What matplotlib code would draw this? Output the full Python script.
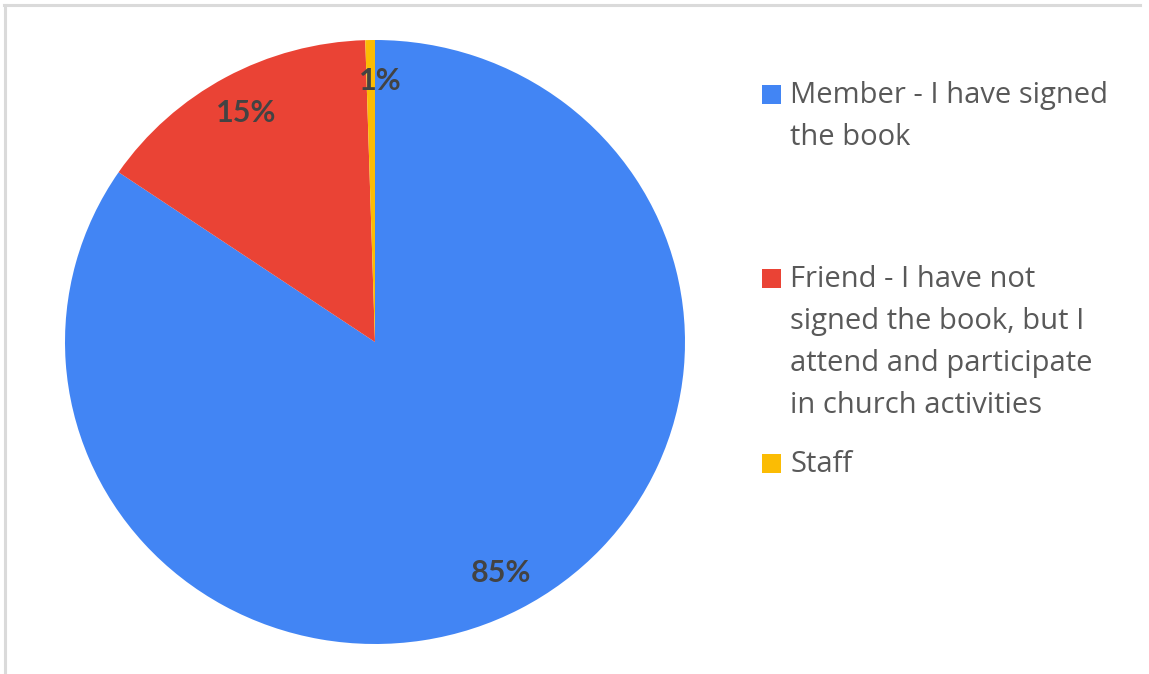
"""
Kreisdiagramm: Zugehörigkeit der Befragten (Member / Friend / Staff).
"""

import math

import matplotlib.pyplot as plt
from matplotlib.lines import Line2D
from matplotlib.patches import Rectangle


# Anteile in Prozent, im Uhrzeigersinn ab 12 Uhr
CATEGORIES = [
    "Member - I have signed the book",
    "Friend - I have not signed the book, but I attend and participate in church activities",
    "Staff",
]
SHARES = [84.5, 15.0, 0.5]

# Legendentext, so umbrochen wie er gesetzt wird
LEGEND_LINES = [
    ["Member - I have signed", "the book"],
    ["Friend - I have not", "signed the book, but I",
     "attend and participate", "in church activities"],
    ["Staff"],
]

COLORS = ["#4285F4", "#EA4335", "#FBBC04"]

FIG_W, FIG_H = 1149, 674
DPI = 100

LABEL_FONT = "Lato"
LEGEND_FONT = "Open Sans"
LABEL_COLOR = "#434343"
LEGEND_COLOR = "#595959"
BORDER_COLOR = "#DADADA"

LABEL_SIZE = 22
LEGEND_SIZE = 21


def pct_label(value: float) -> str:
    """
    Rundet kaufmännisch auf ganze Prozent.
    """
    return f"{math.floor(value + 0.5)}%"


def px_x(x: float) -> float:
    return x / FIG_W


def px_y(y: float) -> float:
    # Pixelangabe von oben -> Figure-Koordinate von unten
    return 1 - y / FIG_H


def main() -> None:
    fig = plt.figure(figsize=(FIG_W / DPI, FIG_H / DPI), dpi=DPI)
    fig.patch.set_facecolor("white")

    # Achse für den Kreis (leicht in die Breite gezogen)
    ax = fig.add_axes([px_x(65), px_y(644), 620 / FIG_W, 604 / FIG_H])

    wedges, texts, autotexts = ax.pie(
        SHARES,
        colors=COLORS,
        startangle=90,
        counterclock=False,
        autopct=lambda v: pct_label(v),
        pctdistance=0.865,
        wedgeprops={"linewidth": 0},
        textprops={"fontsize": LABEL_SIZE, "fontweight": "bold",
                   "color": LABEL_COLOR, "family": LABEL_FONT},
    )
    ax.set_aspect("auto")
    ax.set_xlim(-1, 1)
    ax.set_ylim(-1, 1)
    ax.axis("off")

    # kleines Segment: Beschriftung etwas nach rechts versetzt
    x0, y0 = autotexts[2].get_position()
    autotexts[2].set_position((x0 + 0.03, y0))

    # Legende rechts
    marker_x = 762
    marker_size = 19
    text_x = 790
    line_step = 42
    first_baselines = [103, 287, 472]
    for lines, color, base in zip(LEGEND_LINES, COLORS, first_baselines):
        fig.patches.append(Rectangle(
            (px_x(marker_x), px_y(base + 1)),
            marker_size / FIG_W, marker_size / FIG_H,
            transform=fig.transFigure, facecolor=color, edgecolor="none",
        ))
        for i, line in enumerate(lines):
            fig.text(px_x(text_x), px_y(base + i * line_step), line,
                     fontsize=LEGEND_SIZE, color=LEGEND_COLOR, family=LEGEND_FONT,
                     ha="left", va="baseline")

    # Rahmen oben und links
    fig.add_artist(Line2D([px_x(4), px_x(1140)], [px_y(4.5), px_y(4.5)],
                          transform=fig.transFigure, color=BORDER_COLOR, lw=2.2))
    fig.add_artist(Line2D([px_x(5), px_x(5)], [px_y(4.5), px_y(674)],
                          transform=fig.transFigure, color=BORDER_COLOR, lw=2.2))

    fig.savefig("out.png", dpi=DPI, facecolor="white")
    plt.close(fig)


if __name__ == "__main__":
    main()
